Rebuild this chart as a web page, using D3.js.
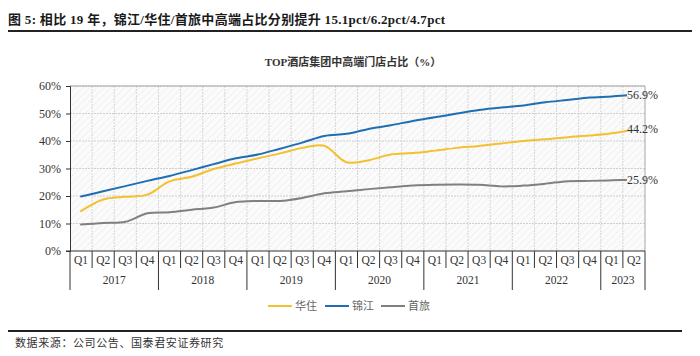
<!DOCTYPE html>
<html>
<head>
<meta charset="utf-8">
<script src="https://cdn.jsdelivr.net/npm/d3@7"></script>
<style>
  html, body { margin: 0; padding: 0; background: #fff; }
  svg { display: block; }
</style>
</head>
<body>
<svg id="chart" width="700" height="356"></svg>
<script>
// ---- data ----
const quarters = ["Q1","Q2","Q3","Q4","Q1","Q2","Q3","Q4","Q1","Q2","Q3","Q4","Q1","Q2","Q3","Q4","Q1","Q2","Q3","Q4","Q1","Q2","Q3","Q4","Q1","Q2"];
const years = ["2017","2018","2019","2020","2021","2022","2023"];
const yearCounts = [4,4,4,4,4,4,2];
const yTicks = [0,10,20,30,40,50,60];
const seriesNames = ["华住","锦江","首旅"];
const huazhu = [14.5,18.7,19.7,20.5,25.3,27.0,29.8,31.8,33.7,35.5,37.5,38.3,32.3,33.0,35.1,35.6,36.5,37.5,38.2,39.1,40.0,40.6,41.4,42.0,42.8,44.2];
const jinjiang = [19.8,21.7,23.6,25.5,27.3,29.4,31.6,33.7,35.1,37.2,39.4,41.8,42.6,44.4,45.7,47.3,48.6,50.0,51.3,52.2,52.9,54.1,54.9,55.8,56.2,56.9];
const shoulv = [9.6,10.2,10.6,13.7,14.1,15.0,15.8,17.8,18.2,18.2,19.3,21.0,21.7,22.5,23.2,23.8,24.1,24.2,24.1,23.5,23.8,24.5,25.4,25.5,25.7,25.9];
const colors = ["#F4C02F","#1F6EB3","#808080"];

const svg = d3.select("#chart");
const L = 70, R = 645, T = 86, B = 251;
const x = d3.scaleBand().domain(d3.range(quarters.length)).range([L, R]).padding(0);
const y = d3.scaleLinear().domain([0, 60]).range([B, T]);
const cx = i => x(i) + x.bandwidth() / 2;

// header
svg.append("text").attr("x", 8).attr("y", 24)
  .attr("font-family", "'Liberation Serif','Noto Sans CJK SC',serif")
  .attr("font-weight", "bold").attr("font-size", 13).attr("fill", "#1a1a1a")
  .attr("letter-spacing", 0.3)
  .text("图 5:  相比 19 年，锦江/华住/首旅中高端占比分别提升 15.1pct/6.2pct/4.7pct");
svg.append("line").attr("x1", 8).attr("x2", 692).attr("y1", 31).attr("y2", 31)
  .attr("stroke", "#222").attr("stroke-width", 2);

svg.append("text").attr("x", 353).attr("y", 66).attr("text-anchor", "middle")
  .attr("font-family", "'Liberation Serif','Noto Sans CJK SC',serif")
  .attr("font-weight", "bold").attr("font-size", 11).attr("fill", "#333")
  .text("TOP酒店集团中高端门店占比（%）");

// hatch background
const defs = svg.append("defs");
const pat = defs.append("pattern").attr("id", "hatch").attr("patternUnits", "userSpaceOnUse")
  .attr("width", 5).attr("height", 5).attr("patternTransform", "rotate(45)");
pat.append("rect").attr("width", 5).attr("height", 5).attr("fill", "#fbfbfb");
pat.append("line").attr("x1", 0).attr("y1", 0).attr("x2", 0).attr("y2", 5)
  .attr("stroke", "#eeeeee").attr("stroke-width", 1.5);
svg.append("rect").attr("x", L).attr("y", T).attr("width", R - L).attr("height", B - T)
  .attr("fill", "url(#hatch)");

// grid
const g = svg.append("g");
g.selectAll("line.h").data(yTicks.slice(1)).join("line")
  .attr("x1", L).attr("x2", R).attr("y1", d => y(d)).attr("y2", d => y(d))
  .attr("stroke", "#cfcfcf").attr("stroke-dasharray", "2,1");
g.selectAll("line.v").data(d3.range(1, quarters.length)).join("line")
  .attr("x1", d => x(d)).attr("x2", d => x(d)).attr("y1", T).attr("y2", B)
  .attr("stroke", "#d6d6d6").attr("stroke-dasharray", "2,1");

// border top/right
svg.append("path").attr("d", `M${L},${T}H${R}V${B}`).attr("fill", "none")
  .attr("stroke", "#a6a6a6").attr("stroke-width", 1);

// y axis
const yAxis = svg.append("g").attr("transform", `translate(${L},0)`)
  .call(d3.axisLeft(y).tickValues(yTicks).tickSize(4).tickPadding(5).tickFormat(d => d + "%"));
yAxis.select(".domain").attr("stroke", "#333");
yAxis.selectAll(".tick line").attr("stroke", "#333");
yAxis.selectAll("text").attr("font-family", "'Liberation Serif',serif").attr("font-size", 12).attr("fill", "#333");

// x axis
svg.append("line").attr("x1", L - 4).attr("x2", R).attr("y1", B).attr("y2", B).attr("stroke", "#333");
const xa = svg.append("g");
xa.selectAll("line.q").data(d3.range(0, quarters.length + 1)).join("line")
  .attr("x1", d => d < quarters.length ? x(d) : R).attr("x2", d => d < quarters.length ? x(d) : R)
  .attr("y1", B).attr("y2", 268).attr("stroke", "#333");
xa.selectAll("text.q").data(quarters).join("text")
  .attr("x", (d, i) => cx(i)).attr("y", 264).attr("text-anchor", "middle")
  .attr("font-family", "'Liberation Serif',serif").attr("font-size", 11.5).attr("fill", "#333")
  .text(d => d);
const yearStarts = yearCounts.map((c, i) => d3.sum(yearCounts.slice(0, i)));
const yb = yearStarts.concat([quarters.length]);
xa.selectAll("line.y").data(yb).join("line")
  .attr("x1", d => d < quarters.length ? x(d) : R).attr("x2", d => d < quarters.length ? x(d) : R)
  .attr("y1", 268).attr("y2", 290).attr("stroke", "#333");
xa.selectAll("text.y").data(years).join("text")
  .attr("x", (d, i) => {
    const s = yearStarts[i], e = s + yearCounts[i];
    const xe = e < quarters.length ? x(e) : R;
    return (x(s) + xe) / 2;
  })
  .attr("y", 284).attr("text-anchor", "middle")
  .attr("font-family", "'Liberation Serif',serif").attr("font-size", 11.5).attr("fill", "#333")
  .text(d => d);

// lines
const line = d3.line().x((d, i) => cx(i)).y(d => y(d)).curve(d3.curveCatmullRom.alpha(0.5));
const allSeries = [huazhu, jinjiang, shoulv];
const drawOrder = [2, 0, 1];
drawOrder.forEach(k => {
  svg.append("path").datum(allSeries[k]).attr("d", line).attr("fill", "none")
    .attr("stroke", colors[k]).attr("stroke-width", 2).attr("stroke-linecap", "round");
});

// end labels
const last = quarters.length - 1;
allSeries.forEach((s, k) => {
  const lx = cx(last) - 7, ly = y(s[last]);
  const t = svg.append("text").attr("x", lx).attr("y", ly + 4)
    .attr("font-family", "'Liberation Serif',serif").attr("font-size", 12).attr("fill", "#333")
    .text(s[last].toFixed(1) + "%");
  const bb = t.node().getBBox();
  svg.insert("rect", () => t.node()).attr("x", bb.x).attr("y", ly - 1.5)
    .attr("width", 8).attr("height", 3).attr("fill", "#fbfbfb");
});

// legend
const legX = [268, 325, 381];
const lg = svg.append("g");
seriesNames.forEach((n, k) => {
  lg.append("line").attr("x1", legX[k]).attr("x2", legX[k] + 24).attr("y1", 306).attr("y2", 306)
    .attr("stroke", colors[k]).attr("stroke-width", 2);
  lg.append("text").attr("x", legX[k] + 27).attr("y", 310)
    .attr("font-family", "'Noto Sans CJK SC',sans-serif").attr("font-size", 11).attr("fill", "#666")
    .text(n);
});

// footer
svg.append("line").attr("x1", 8).attr("x2", 682).attr("y1", 331).attr("y2", 331)
  .attr("stroke", "#222").attr("stroke-width", 2);
svg.append("text").attr("x", 15).attr("y", 347)
  .attr("font-family", "'Noto Sans CJK SC',sans-serif").attr("font-size", 11).attr("fill", "#333")
  .attr("letter-spacing", 0.6)
  .text("数据来源：公司公告、国泰君安证券研究");
</script>
</body>
</html>
